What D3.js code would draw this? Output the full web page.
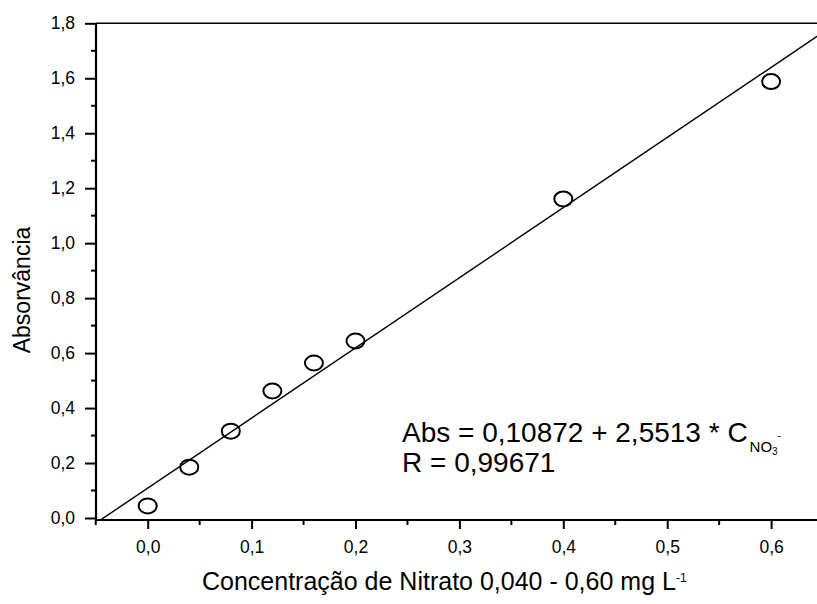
<!DOCTYPE html>
<html lang="en">
<head>
<meta charset="utf-8">
<title>Absorvância x Nitrato</title>
<script src="https://cdnjs.cloudflare.com/ajax/libs/d3/7.8.5/d3.min.js"></script>
<style>
body { margin: 0; background: #fff; }
svg { display: block; overflow: hidden; }
text { font-family: "Liberation Sans", Arial, sans-serif; fill: #000; }
</style>
</head>
<body>
<div id="chart"></div>
<script>

// data
var concentration = [0, 0.04, 0.08, 0.12, 0.16, 0.2, 0.4, 0.6]
var absorbance = [0.044, 0.185, 0.316, 0.462, 0.564, 0.644, 1.161, 1.588]
var fitIntercept = 0.10872
var fitSlope = 2.5513
var xMajorTicks = [0, 0.1, 0.2, 0.3, 0.4, 0.5, 0.6]
var xMinorTicks = [-0.05, 0.05, 0.15, 0.25, 0.35, 0.45, 0.55, 0.65]
var yMajorTicks = [0, 0.2, 0.4, 0.6, 0.8, 1.0, 1.2, 1.4, 1.6, 1.8]
var yMinorTicks = [0.1, 0.3, 0.5, 0.7, 0.9, 1.1, 1.3, 1.5, 1.7]

var svgWidth = 817, svgHeight = 604
var plotLeft = 96, plotTop = 23.3, plotBottom = 520

var svg = d3.select('#chart')
    .append('svg')
    .attr('width', svgWidth)
    .attr('height', svgHeight)

// the original is cut off on the right, so the x range runs past the svg edge
var x = d3.scaleLinear().domain([-0.05, 0.7]).range([95.75, 875])
var y = d3.scaleLinear().domain([0, 1.8]).range([518, plotTop])

function comma(v) {
    return d3.format('.1f')(v).replace('.', ',')
}

svg.append('clipPath')
    .attr('id', 'plotClip')
  .append('rect')
    .attr('x', plotLeft)
    .attr('y', plotTop)
    .attr('width', svgWidth - plotLeft)
    .attr('height', plotBottom - plotTop)

// top frame line
svg.append('line')
    .attr('x1', plotLeft).attr('x2', svgWidth)
    .attr('y1', plotTop).attr('y2', plotTop)
    .attr('stroke', '#000')
    .attr('stroke-width', 1.4)

// fit line
var fitX = [-0.05, 0.7]
svg.append('g')
    .attr('clip-path', 'url(#plotClip)')
  .append('path')
    .datum(fitX)
    .attr('fill', 'none')
    .attr('stroke', '#000')
    .attr('stroke-width', 1.4)
    .attr('d', d3.line()
        .x(function(d) { return x(d) })
        .y(function(d) { return y(fitIntercept + fitSlope * d) }))

// points
svg.selectAll('.pt')
    .data(concentration)
    .enter().append('ellipse')
    .attr('class', 'pt')
    .attr('cx', function(d) { return x(d) })
    .attr('cy', function(d, i) { return y(absorbance[i]) })
    .attr('rx', 9)
    .attr('ry', 7.5)
    .attr('fill', 'none')
    .attr('stroke', '#000')
    .attr('stroke-width', 2)

// x axis
var xAxisG = svg.append('g')
    .attr('transform', 'translate(0,' + plotBottom + ')')
xAxisG.call(d3.axisBottom(x)
        .tickValues(xMajorTicks)
        .tickSize(9)
        .tickPadding(12)
        .tickFormat(comma))
xAxisG.append('g').selectAll('line')
    .data(xMinorTicks)
    .enter().append('line')
    .attr('x1', function(d) { return x(d) })
    .attr('x2', function(d) { return x(d) })
    .attr('y1', 0).attr('y2', 5)
    .attr('stroke', '#000')
    .attr('stroke-width', 2)

// y axis
var yAxisG = svg.append('g')
    .attr('transform', 'translate(' + plotLeft + ',0)')
yAxisG.call(d3.axisLeft(y)
        .tickValues(yMajorTicks)
        .tickSize(11)
        .tickPadding(10)
        .tickFormat(comma))
yAxisG.append('g').selectAll('line')
    .data(yMinorTicks)
    .enter().append('line')
    .attr('y1', function(d) { return y(d) })
    .attr('y2', function(d) { return y(d) })
    .attr('x1', 0).attr('x2', -5)
    .attr('stroke', '#000')
    .attr('stroke-width', 2)

svg.selectAll('.domain').remove()
svg.selectAll('.tick line').attr('stroke-width', 2)
svg.selectAll('.tick text')
    .style('font-family', '"Liberation Sans", Arial, sans-serif')
    .style('font-size', '17.5px')

// axis lines drawn by hand, thicker than ticks
svg.append('line')
    .attr('x1', plotLeft).attr('x2', plotLeft)
    .attr('y1', plotTop).attr('y2', plotBottom + 1)
    .attr('stroke', '#000').attr('stroke-width', 2.2)
svg.append('line')
    .attr('x1', plotLeft - 1).attr('x2', svgWidth)
    .attr('y1', plotBottom).attr('y2', plotBottom)
    .attr('stroke', '#000').attr('stroke-width', 2)

// axis titles
svg.append('text')
    .attr('transform', 'translate(30,290) rotate(-90)')
    .attr('text-anchor', 'middle')
    .style('font-size', '23px')
    .text('Absorvância')

var xTitle = svg.append('text')
    .attr('x', 202)
    .attr('y', 590)
    .style('font-size', '25px')
xTitle.append('tspan').text('Concentração de Nitrato 0,040 - 0,60 mg L')
xTitle.append('tspan')
    .attr('dy', -8)
    .style('font-size', '12px')
    .text('-1')

// equation
var eq = svg.append('text')
    .attr('x', 402)
    .attr('y', 442)
    .style('font-size', '28px')
eq.append('tspan').text('Abs = 0,10872 + 2,5513 * C')
eq.append('tspan').attr('dx', 2).attr('dy', 10).style('font-size', '15px').text('NO')
eq.append('tspan').attr('dy', 3).style('font-size', '10px').text('3')
eq.append('tspan').attr('dy', -16).style('font-size', '10px').text('-')

svg.append('text')
    .attr('x', 402)
    .attr('y', 471.5)
    .style('font-size', '28px')
    .text('R = 0,99671')

</script>
</body>
</html>
